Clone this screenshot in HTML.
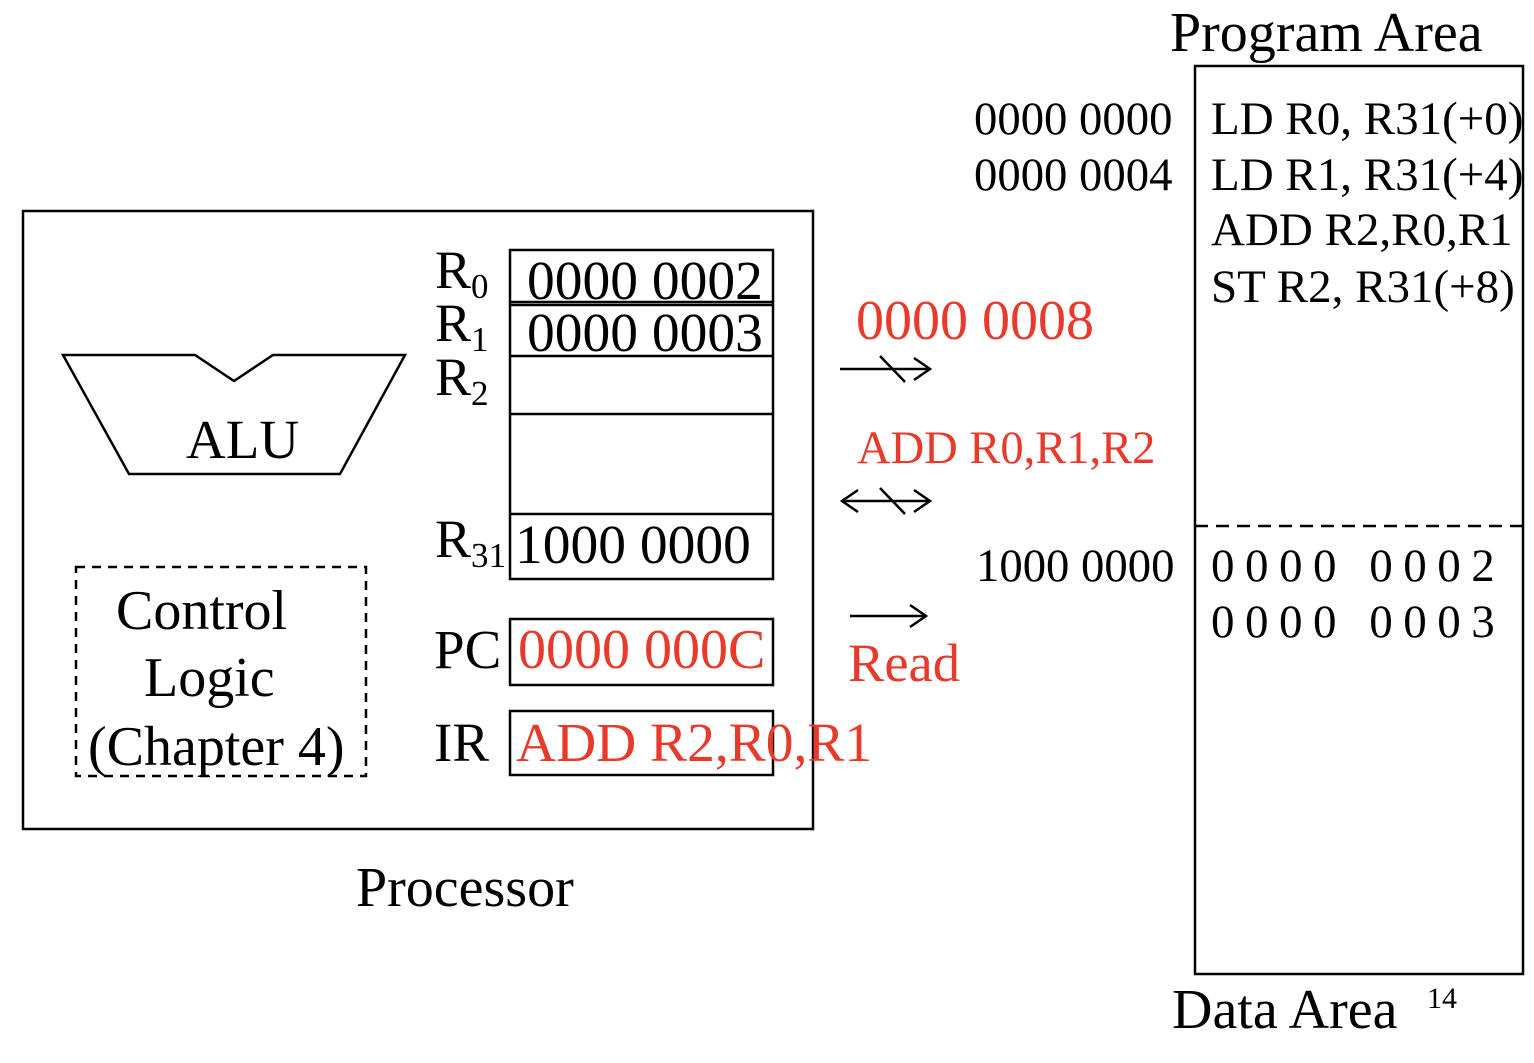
<!DOCTYPE html>
<html><head><style>
html,body{margin:0;padding:0;background:#fff;}
svg text{font-family:"Liberation Serif",serif;}
</style></head><body>
<svg width="1534" height="1058" viewBox="0 0 1534 1058" xmlns="http://www.w3.org/2000/svg">
<g fill="none" stroke="#000" stroke-width="2.5">
<rect x="23" y="211" width="790" height="618"/>
<polygon points="63,355 195,355 234,381 273,355 405,355 340,474 129,474"/>
<rect x="76" y="567" width="290" height="209" stroke-dasharray="9,7"/>
<rect x="510" y="250" width="263" height="329"/>
<line x1="510" y1="302" x2="773" y2="302"/>
<line x1="510" y1="305" x2="773" y2="305"/>
<line x1="510" y1="356" x2="773" y2="356"/>
<line x1="510" y1="414" x2="773" y2="414"/>
<line x1="510" y1="514" x2="773" y2="514"/>
<rect x="510" y="619" width="263" height="66"/>
<rect x="510" y="711" width="263" height="64"/>
<rect x="1195" y="66" width="328" height="908"/>
<line x1="1195" y1="526" x2="1523" y2="526" stroke-dasharray="13,8"/>
<line x1="840" y1="369" x2="930" y2="369"/>
<polyline points="914,358 930,369 914,380"/>
<line x1="880" y1="356" x2="905" y2="382"/>
<line x1="842" y1="501" x2="930" y2="501"/>
<polyline points="914,490 930,501 914,512"/>
<polyline points="858,490 842,501 858,512"/>
<line x1="880" y1="488" x2="905" y2="514"/>
<line x1="850" y1="616" x2="926" y2="616"/>
<polyline points="910,605 926,616 910,627"/>
</g>
<g fill="#000">
<text x="186" y="458" font-size="55">ALU</text>
<text x="116" y="629" font-size="56">Control</text>
<text x="144" y="696" font-size="56">Logic</text>
<text x="88" y="765" font-size="56">(Chapter 4)</text>
<text x="435" y="288" font-size="54">R<tspan font-size="35" dy="10">0</tspan></text>
<text x="435" y="341" font-size="54">R<tspan font-size="35" dy="10">1</tspan></text>
<text x="435" y="395" font-size="54">R<tspan font-size="35" dy="10">2</tspan></text>
<text x="435" y="557" font-size="54">R<tspan font-size="35" dy="10">31</tspan></text>
<text x="527" y="299" font-size="55.5">0000 0002</text>
<text x="527" y="351" font-size="55.5">0000 0003</text>
<text x="515" y="563" font-size="55.5">1000 0000</text>
<text x="434" y="668" font-size="55">PC</text>
<text x="434" y="761" font-size="55">IR</text>
<text x="356" y="906" font-size="56">Processor</text>
<text x="1170" y="51" font-size="56">Program Area</text>
<text x="1172" y="1028" font-size="56">Data Area</text>
<text x="1427" y="1008" font-size="30">14</text>
<text x="974" y="134" font-size="46.7">0000 0000</text>
<text x="974" y="190" font-size="46.7">0000 0004</text>
<text x="976" y="581" font-size="46.7">1000 0000</text>
<text x="1211" y="134" font-size="47">LD R0, R31(+0)</text>
<text x="1211" y="190" font-size="47">LD R1, R31(+4)</text>
<text x="1211" y="245" font-size="47">ADD R2,R0,R1</text>
<text x="1211" y="302" font-size="47">ST R2, R31(+8)</text>
<text x="1211" y="581" font-size="47" letter-spacing="10.5">0000 0002</text>
<text x="1211" y="637" font-size="47" letter-spacing="10.5">0000 0003</text>
</g>
<g fill="#e8392a">
<text x="518" y="668" font-size="56">0000 000C</text>
<text x="516" y="761" font-size="55.5">ADD R2,R0,R1</text>
<text x="856" y="339" font-size="56">0000 0008</text>
<text x="857" y="463" font-size="46.5">ADD R0,R1,R2</text>
<text x="848" y="681" font-size="54.5">Read</text>
</g>
</svg>
</body></html>
